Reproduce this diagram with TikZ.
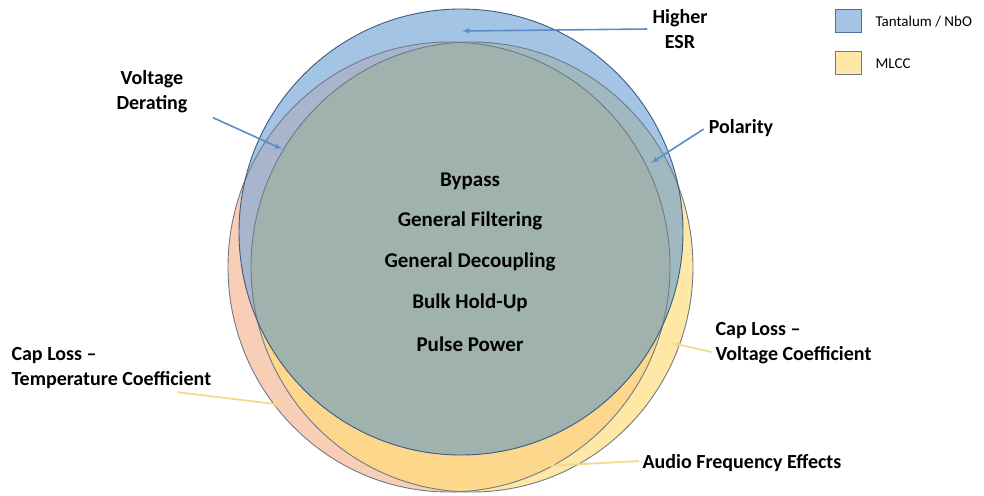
\documentclass[tikz,border=0pt]{standalone}
\usepackage{fontspec}
\setmainfont{Carlito}
\usetikzlibrary{arrows}

\definecolor{tantonly}{RGB}{164,196,230}
\definecolor{tantleft}{RGB}{168,181,205}
\definecolor{tantright}{RGB}{160,185,192}
\definecolor{allthree}{RGB}{160,178,173}
\definecolor{mlccleft}{RGB}{248,207,182}
\definecolor{mlccright}{RGB}{255,232,166}
\definecolor{mlccboth}{RGB}{253,215,140}
\definecolor{tantline}{RGB}{92,140,198}
\definecolor{mlccline}{RGB}{242,218,140}
\definecolor{edgegray}{RGB}{112,122,135}

\newcommand{\tantell}{(461,232) ellipse [x radius=222pt, y radius=223pt]}
\newcommand{\mlccA}{(449,267) ellipse [x radius=221pt, y radius=225pt]}
\newcommand{\mlccB}{(472,267) ellipse [x radius=221pt, y radius=225pt]}

\begin{document}
\begin{tikzpicture}[x=1pt,y=-1pt]

		\tikzset{midtext/.style = {font=\fontsize{21}{25}\selectfont\bfseries}}
		\tikzset{sidetext/.style = {font=\fontsize{20}{25}\selectfont\bfseries,align=center}}
		\tikzset{tantarrow/.style = {->,> = latex',draw=tantline,line width=1.6pt,shorten <=2pt}}
		\tikzset{mlccarrow/.style = {->,> = latex',draw=mlccline,line width=1.8pt}}
		\tikzset{legbox/.style = {draw=edgegray,line width=1pt,minimum width=26pt,minimum height=23pt,inner sep=0pt}}

		\useasboundingbox (0,0) rectangle (984,495);

		% MLCC pair
		\fill[mlccleft] \mlccA;
		\fill[mlccright] \mlccB;
		\begin{scope}
			\clip \mlccA;
			\fill[mlccboth] \mlccB;
		\end{scope}

		% Tantalum on top
		\fill[tantonly] \tantell;
		\begin{scope}
			\clip \tantell;
			\fill[tantleft] \mlccA;
			\fill[tantright] \mlccB;
			\clip \mlccA;
			\fill[allthree] \mlccB;
		\end{scope}

		\draw[edgegray,line width=0.9pt] \mlccA;
		\draw[edgegray,line width=0.9pt] \mlccB;
		\draw[tantline!65!black,line width=0.9pt] \tantell;

		% common uses
		\node[midtext] (bypass) at (470,181) {Bypass};
		\node[midtext] (filter) at (470,221) {General Filtering};
		\node[midtext] (decoup) at (470,262) {General Decoupling};
		\node[midtext] (holdup) at (470,303) {Bulk Hold-Up};
		\node[midtext] (pulse) at (470,344) {Pulse Power};

		% labels round the edge
		\node[sidetext] (hiesr) at (680,29) {Higher\\ESR};
		\node[sidetext] (voltder) at (152,92) {Voltage\\Derating};
		\node[sidetext] (polar) at (741,128) {Polarity};
		\node[sidetext,align=left,anchor=west] (captemp) at (8,368) {Cap Loss --\\Temperature Coefficient};
		\node[sidetext,align=left,anchor=west] (capvolt) at (712,343) {Cap Loss --\\Voltage Coefficient};
		\node[sidetext,anchor=west] (audio) at (639,463) {Audio Frequency Effects};

		\coordinate (esrtip) at (462,31);
		\coordinate (vdtip) at (282,149);
		\coordinate (poltip) at (651,163);
		\coordinate (temptip) at (283,405);
		\coordinate (volttip) at (671,343);
		\coordinate (audtip) at (472,470);

		\draw[tantarrow] (hiesr.west) -- (esrtip);
		\draw[tantarrow] ([xshift=20pt]voltder.south east) -- (vdtip);
		\draw[tantarrow] (polar.west) -- (poltip);
		\draw[mlccarrow] ([xshift=66pt]captemp.south) -- (temptip);
		\draw[mlccarrow] ([yshift=-9pt]capvolt.west) -- (volttip);
		\draw[mlccarrow] ([yshift=2pt]audio.west) -- (audtip);

		% legend
		\node[legbox,fill=tantonly,draw=tantline!80!black] (tantbox) at (848,21) {};
		\node[legbox,fill=mlccright] (mlccbox) at (848,63) {};
		\node[anchor=west,font=\fontsize{15}{18}\selectfont] (tantlbl) at (872,22) {Tantalum / NbO};
		\node[anchor=west,font=\fontsize{15}{18}\selectfont] (mlcclbl) at (872,64) {MLCC};

\end{tikzpicture}
\end{document}
